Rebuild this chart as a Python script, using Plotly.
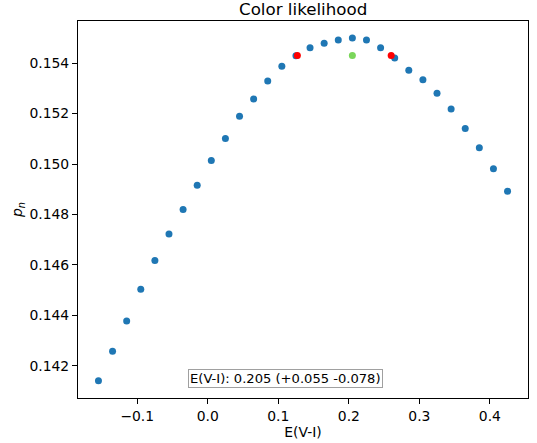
import plotly.graph_objects as go

# Data
color_values = [-0.155, -0.135, -0.115, -0.095, -0.075, -0.055, -0.035, -0.015,
                0.005, 0.025, 0.045, 0.065, 0.085, 0.105, 0.125, 0.145, 0.165,
                0.185, 0.205, 0.225, 0.245, 0.265, 0.285, 0.305, 0.325, 0.345,
                0.365, 0.385, 0.405, 0.425]
likelihood = [0.14141, 0.14258, 0.14378, 0.14504, 0.14618, 0.14723, 0.14820,
              0.14916, 0.15014, 0.15101, 0.15189, 0.15258, 0.15329, 0.15387,
              0.15429, 0.15461, 0.15479, 0.15492, 0.15499, 0.15492, 0.15461,
              0.15420, 0.15372, 0.15334, 0.15280, 0.15218, 0.15141, 0.15065,
              0.14981, 0.14892]
bound_x = [0.127, 0.260]
bound_y = [0.15430, 0.15430]
best_x = [0.205]
best_y = [0.15430]
x_ticks = [-0.1, 0.0, 0.1, 0.2, 0.3, 0.4]
x_tick_labels = ["\u22120.1", "0.0", "0.1", "0.2", "0.3", "0.4"]
y_ticks = [0.142, 0.144, 0.146, 0.148, 0.150, 0.152, 0.154]
y_tick_labels = ["0.142", "0.144", "0.146", "0.148", "0.150", "0.152", "0.154"]
summary_text = "E(V-I): 0.205 (+0.055 -0.078)"

FONT = "DejaVu Sans"

fig = go.Figure()
fig.add_trace(go.Scatter(x=color_values, y=likelihood, mode="markers",
                         marker=dict(color="#1f77b4", size=7, line=dict(width=0)),
                         showlegend=False, hoverinfo="skip"))
fig.add_trace(go.Scatter(x=bound_x, y=bound_y, mode="markers",
                         marker=dict(color="#ff0000", size=7, line=dict(width=0)),
                         showlegend=False, hoverinfo="skip"))
fig.add_trace(go.Scatter(x=best_x, y=best_y, mode="markers",
                         marker=dict(color="#7ad65a", size=7, line=dict(width=0)),
                         showlegend=False, hoverinfo="skip"))

axis_common = dict(showgrid=False, zeroline=False, showline=True, linecolor="black",
                   linewidth=1, mirror=True, ticks="outside", ticklen=5, tickwidth=1,
                   tickcolor="black", tickfont=dict(family=FONT, size=13.9, color="black"))

fig.update_xaxes(range=[-0.184, 0.454], tickmode="array", tickvals=x_ticks,
                 ticktext=x_tick_labels,
                 title=dict(text="E(V-I)", font=dict(family=FONT, size=13.9, color="black"),
                            standoff=0),
                 **axis_common)
fig.update_yaxes(range=[0.140728, 0.155668], tickmode="array", tickvals=y_ticks,
                 ticktext=y_tick_labels,
                 title=dict(text="<i>p<sub>n</sub></i>",
                            font=dict(family=FONT, size=13.9, color="black"),
                            standoff=3),
                 **axis_common)

fig.add_annotation(text=summary_text, xref="paper", yref="paper", x=0.4603, y=0.0514,
                   xanchor="center", yanchor="middle", showarrow=False,
                   font=dict(family=FONT, size=13.1, color="black"),
                   bgcolor="white", bordercolor="#a0a0a0", borderwidth=1, borderpad=1)

fig.add_annotation(text="Color likelihood", xref="paper", yref="paper", x=0.5, y=1,
                   xanchor="center", yanchor="bottom", yshift=0, showarrow=False,
                   font=dict(family=FONT, size=16.7, color="black"))

fig.update_layout(width=537, height=443, margin=dict(l=78, r=9, t=21, b=45),
                  plot_bgcolor="white", paper_bgcolor="white",
                  font=dict(family=FONT, color="black"))

fig.write_html("out.html", config={"displayModeBar": False},
               post_script="document.body.style.margin='0';document.body.style.overflow='hidden';")
